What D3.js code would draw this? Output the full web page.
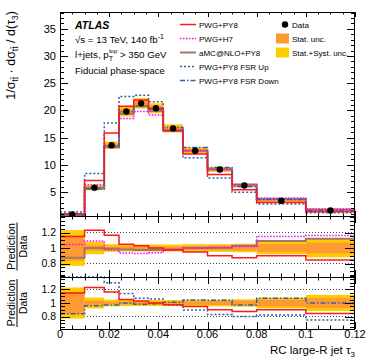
<!DOCTYPE html>
<html>
<head>
<meta charset="utf-8">
<script src="https://cdn.jsdelivr.net/npm/d3@7"></script>
<style>
body { margin: 0; background: #fff; }
text { font-family: "Liberation Sans", Arial, Helvetica, sans-serif; fill: #000; }
</style>
</head>
<body>
<div id="chart"></div>
<script>
// bins of the RC large-R jet tau3
var binEdges = [0, 0.01, 0.018, 0.024, 0.03, 0.036, 0.042, 0.05, 0.06, 0.07, 0.08, 0.1, 0.12];

// unfolded data and its relative uncertainties
var dataVals = [0.87, 5.8, 13.6, 19.8, 21.3, 20.4, 16.7, 12.6, 9.15, 6.2, 3.4, 1.6];
var statUnc  = [0.16, 0.035, 0.02, 0.02, 0.02, 0.02, 0.02, 0.025, 0.03, 0.035, 0.05, 0.07];
var totUnc   = [0.23, 0.08, 0.05, 0.045, 0.045, 0.045, 0.045, 0.05, 0.05, 0.055, 0.08, 0.12];

// predictions
var pwgPy8  = [1.0, 7.13, 15.84, 20.79, 21.94, 20.4, 16.28, 11.97, 8.24, 5.43, 3.06, 1.35];
var pwgH7   = [0.91, 6.32, 13.26, 18.51, 19.81, 19.18, 16.37, 12.6, 9.24, 6.32, 3.91, 1.86];
var amcPy8  = [0.76, 5.8, 13.46, 19.4, 20.77, 19.89, 16.37, 12.6, 9.15, 6.39, 3.71, 1.79];
var fsrUp   = [1.31, 8.41, 17.68, 22.57, 22.79, 21.62, 16.2, 11.28, 7.59, 4.96, 2.79, 1.2];
var fsrDown = [0.73, 5.57, 13.19, 19.8, 20.87, 20.2, 16.87, 13.17, 9.52, 6.01, 3.64, 1.6];

var xTickVals = [0, 0.02, 0.04, 0.06, 0.08, 0.1, 0.12];
var xTickLabels = ["0", "0.02", "0.04", "0.06", "0.08", "0.1", "0.12"];
var mainYTicks = [5, 10, 15, 20, 25, 30, 35];
var ratioYTicks = [0.8, 1, 1.2];
var ratioYLabels = ["0.8", "1", "1.2"];

var W = 374, H = 363;
var L = 60, R = 355;
var mainTop = 12, mainBot = 216;
var r1Top = 216, r1Bot = 277;
var r2Top = 277, r2Bot = 329;

var cRed = "#ff1a1a", cMag = "#ff00ff", cBrown = "#a07868", cBlue = "#2f64a0";
var cStat = "#ff9933", cTot = "#ffcc00";

var svg = d3.select("#chart").append("svg")
    .attr("width", W)
    .attr("height", H);

var x = d3.scaleLinear().domain([0, 0.12]).range([L, R]);
var yMain = d3.scaleLinear().domain([0.59, 38.1]).range([mainBot, mainTop]);
var yR1 = d3.scaleLinear().domain([0.626, 1.413]).range([r1Bot, r1Top]);
var yR2 = d3.scaleLinear().domain([0.615, 1.385]).range([r2Bot, r2Top]);

var bins = dataVals.map(function(d, i) {
    return {lo: binEdges[i], hi: binEdges[i + 1], v: d, s: statUnc[i], t: totUnc[i]};
});

svg.append("clipPath").attr("id", "clipMain")
    .append("rect").attr("x", L).attr("y", mainTop)
    .attr("width", R - L).attr("height", mainBot - mainTop);

function stepPts(vals) {
    var pts = vals.map(function(v, i) { return [binEdges[i], v]; });
    pts.push([binEdges[binEdges.length - 1], vals[vals.length - 1]]);
    return pts;
}

function ratioOf(vals) {
    return vals.map(function(v, i) { return v / dataVals[i]; });
}

function drawStep(g, vals, yScale, color, width, dash, clampIt) {
    var dom = yScale.domain();
    var line = d3.line()
        .x(function(d) { return x(d[0]); })
        .y(function(d) {
            var v = clampIt ? Math.max(dom[0], Math.min(dom[1], d[1])) : d[1];
            return yScale(v);
        })
        .curve(d3.curveStepAfter);
    g.append("path")
        .attr("d", line(stepPts(vals)))
        .attr("fill", "none")
        .attr("stroke", color)
        .attr("stroke-width", width)
        .attr("stroke-dasharray", dash);
}

// ROOT style ticks, all pointing inward
function drawFrame(yScale, top, bot, yMaj, yMin, yMajLen, yMinLen, xMajLen, xMinLen) {
    var g = svg.append("g").attr("stroke", "#000").attr("stroke-width", 1);
    var xMinors = d3.range(0, 25).map(function(i) { return i * 0.005; });
    xMinors.forEach(function(t, i) {
        var len = (i % 4 == 0) ? xMajLen : xMinLen;
        var px = Math.round(x(t)) + 0.5;
        g.append("line").attr("x1", px).attr("x2", px).attr("y1", bot).attr("y2", bot - len);
        g.append("line").attr("x1", px).attr("x2", px).attr("y1", top).attr("y2", top + len);
    });
    yMin.forEach(function(t) {
        var len = yMaj.indexOf(t) >= 0 ? yMajLen : yMinLen;
        var py = Math.round(yScale(t)) + 0.5;
        g.append("line").attr("x1", L).attr("x2", L + len).attr("y1", py).attr("y2", py);
        g.append("line").attr("x1", R).attr("x2", R - len).attr("y1", py).attr("y2", py);
    });
    svg.append("rect")
        .attr("x", L + 0.5).attr("y", top + 0.5)
        .attr("width", R - L - 1).attr("height", bot - top)
        .attr("fill", "none").attr("stroke", "#000").attr("stroke-width", 1);
}

// ---------- main panel ----------
var gMain = svg.append("g").attr("clip-path", "url(#clipMain)");

gMain.selectAll("rect.tot").data(bins).enter().append("rect")
    .attr("class", "tot")
    .attr("x", function(d) { return x(d.lo); })
    .attr("width", function(d) { return x(d.hi) - x(d.lo); })
    .attr("y", function(d) { return yMain(d.v * (1 + d.t)); })
    .attr("height", function(d) { return yMain(d.v * (1 - d.t)) - yMain(d.v * (1 + d.t)); })
    .attr("fill", cTot);

gMain.selectAll("rect.stat").data(bins).enter().append("rect")
    .attr("class", "stat")
    .attr("x", function(d) { return x(d.lo); })
    .attr("width", function(d) { return x(d.hi) - x(d.lo); })
    .attr("y", function(d) { return yMain(d.v * (1 + d.s)); })
    .attr("height", function(d) { return yMain(d.v * (1 - d.s)) - yMain(d.v * (1 + d.s)); })
    .attr("fill", cStat);

drawStep(gMain, amcPy8, yMain, cBrown, 2, null, false);
drawStep(gMain, pwgH7, yMain, cMag, 1.5, "1.5,1.5", false);
drawStep(gMain, fsrUp, yMain, cBlue, 1.5, "2,2", false);
drawStep(gMain, fsrDown, yMain, cBlue, 1.5, "5,2,1.5,2", false);
drawStep(gMain, pwgPy8, yMain, cRed, 1.5, null, false);

gMain.selectAll("circle.data").data(bins).enter().append("circle")
    .attr("class", "data")
    .attr("cx", function(d) { return x((d.lo + d.hi) / 2); })
    .attr("cy", function(d) { return yMain(d.v); })
    .attr("r", 3.2)
    .attr("fill", "#000");

var mainMinors = d3.range(1, 39);
drawFrame(yMain, mainTop, mainBot, mainYTicks, mainMinors, 8, 4, 5, 2.5);

svg.selectAll("text.ymain").data(mainYTicks).enter().append("text")
    .attr("class", "ymain")
    .attr("x", 56)
    .attr("y", function(d) { return yMain(d) + 4; })
    .attr("text-anchor", "end")
    .attr("font-size", 11)
    .text(function(d) { return d; });

// ---------- ratio panels ----------
function ratioPanel(yScale, top, bot, series) {
    var g = svg.append("g");
    [0.8, 1, 1.2].forEach(function(t) {
        g.append("line")
            .attr("x1", L).attr("x2", R)
            .attr("y1", yScale(t)).attr("y2", yScale(t))
            .attr("stroke", "#444").attr("stroke-width", 1)
            .attr("stroke-dasharray", "1,2");
    });
    g.selectAll("rect.tot").data(bins).enter().append("rect")
        .attr("x", function(d) { return x(d.lo); })
        .attr("width", function(d) { return x(d.hi) - x(d.lo); })
        .attr("y", function(d) { return yScale(1 + d.t); })
        .attr("height", function(d) { return yScale(1 - d.t) - yScale(1 + d.t); })
        .attr("fill", cTot);
    g.selectAll("rect.stat").data(bins).enter().append("rect")
        .attr("x", function(d) { return x(d.lo); })
        .attr("width", function(d) { return x(d.hi) - x(d.lo); })
        .attr("y", function(d) { return yScale(1 + d.s); })
        .attr("height", function(d) { return yScale(1 - d.s) - yScale(1 + d.s); })
        .attr("fill", cStat);
    series.forEach(function(s) {
        drawStep(g, ratioOf(s.vals), yScale, s.color, s.width, s.dash, true);
    });
    var minors = d3.range(13, 29).map(function(i) { return Math.round(i * 5) / 100; });
    drawFrame(yScale, top, bot, ratioYTicks, minors, 10, 5, 7, 3.5);
    svg.selectAll(null).data(ratioYTicks).enter().append("text")
        .attr("x", 56)
        .attr("y", function(d) { return yScale(d) + 3.5; })
        .attr("text-anchor", "end")
        .attr("font-size", 10.5)
        .text(function(d, i) { return ratioYLabels[i]; });

    // Prediction / Data title
    var cy = (top + bot) / 2;
    var tg = svg.append("g").attr("transform", "translate(0," + cy + ")");
    tg.append("text")
        .attr("transform", "translate(15,0) rotate(-90)")
        .attr("text-anchor", "middle").attr("font-size", 10.5)
        .text("Prediction");
    tg.append("line")
        .attr("x1", 17).attr("x2", 17).attr("y1", -24).attr("y2", 24)
        .attr("stroke", "#000").attr("stroke-width", 1);
    tg.append("text")
        .attr("transform", "translate(27,0) rotate(-90)")
        .attr("text-anchor", "middle").attr("font-size", 10.5)
        .text("Data");
}

ratioPanel(yR1, r1Top, r1Bot, [
    {vals: amcPy8, color: cBrown, width: 2, dash: null},
    {vals: pwgH7, color: cMag, width: 1.5, dash: "1.5,1.5"},
    {vals: pwgPy8, color: cRed, width: 1.5, dash: null}
]);

ratioPanel(yR2, r2Top, r2Bot, [
    {vals: fsrUp, color: cBlue, width: 1.5, dash: "2,2"},
    {vals: fsrDown, color: cBlue, width: 1.5, dash: "5,2,1.5,2"},
    {vals: pwgPy8, color: cRed, width: 1.5, dash: null}
]);

// x tick labels
svg.selectAll("text.xtick").data(xTickVals).enter().append("text")
    .attr("class", "xtick")
    .attr("x", function(d) { return x(d); })
    .attr("y", 338)
    .attr("text-anchor", "middle")
    .attr("font-size", 11)
    .text(function(d, i) { return xTickLabels[i]; });

// x title
var xt = svg.append("text")
    .attr("x", R).attr("y", 354)
    .attr("text-anchor", "end")
    .attr("font-size", 11.5);
xt.append("tspan").text("RC large-R jet \u03c4");
xt.append("tspan").attr("font-size", 8).attr("dy", 3).text("3");

// main y title
var yt = svg.append("text")
    .attr("transform", "translate(14.5,11) rotate(-90)")
    .attr("text-anchor", "end")
    .attr("font-size", 12.5);
yt.append("tspan").text("1/\u03c3");
yt.append("tspan").attr("font-size", 8.5).attr("dy", 3).text("tt\u0304");
yt.append("tspan").attr("dy", -3).text(" \u00b7 d\u03c3");
yt.append("tspan").attr("font-size", 8.5).attr("dy", 3).text("tt\u0304");
yt.append("tspan").attr("dy", -3).text(" / d(\u03c4");
yt.append("tspan").attr("font-size", 8.5).attr("dy", 3).text("3");
yt.append("tspan").attr("dy", -3).text(")");

// ATLAS labels
svg.append("text")
    .attr("x", 75).attr("y", 28.5)
    .attr("font-size", 10.5).attr("font-weight", "bold").attr("font-style", "italic")
    .text("ATLAS");

var l1 = svg.append("text").attr("x", 75).attr("y", 43).attr("font-size", 9.7);
l1.append("tspan").text("\u221as = 13 TeV, 140 fb");
l1.append("tspan").attr("font-size", 7).attr("dy", -4).text("-1");

var l2 = svg.append("text").attr("x", 75).attr("y", 58).attr("font-size", 9.7);
l2.append("tspan").text("l+jets, p");
l2.append("tspan").attr("font-size", 7).attr("dy", 2.5).text("T");
l2.append("tspan").attr("font-size", 6).attr("dx", -4).attr("dy", -8).text("top");
l2.append("tspan").attr("dy", 5.5).text(" > 350 GeV");

svg.append("text").attr("x", 75).attr("y", 73.5).attr("font-size", 9.5)
    .text("Fiducial phase-space");

// legend
var legLines = [
    {label: "PWG+PY8", color: cRed, width: 1.5, dash: null},
    {label: "PWG+H7", color: cMag, width: 1.5, dash: "1.5,1.5"},
    {label: "aMC@NLO+PY8", color: cBrown, width: 2, dash: null},
    {label: "PWG+PY8 FSR Up", color: cBlue, width: 1.5, dash: "2,2"},
    {label: "PWG+PY8 FSR Down", color: cBlue, width: 1.5, dash: "5,2,1.5,2"}
];
legLines.forEach(function(d, i) {
    var cy = 24.5 + i * 14;
    svg.append("line")
        .attr("x1", 180).attr("x2", 196).attr("y1", cy).attr("y2", cy)
        .attr("stroke", d.color).attr("stroke-width", d.width)
        .attr("stroke-dasharray", d.dash);
    svg.append("text").attr("x", 199).attr("y", cy + 3)
        .attr("font-size", 8).text(d.label);
});

svg.append("circle").attr("cx", 285).attr("cy", 24.5).attr("r", 3.2).attr("fill", "#000");
svg.append("text").attr("x", 292).attr("y", 27.5).attr("font-size", 8).text("Data");
svg.append("rect").attr("x", 276).attr("y", 33.5).attr("width", 13).attr("height", 10).attr("fill", cStat);
svg.append("text").attr("x", 292).attr("y", 41.5).attr("font-size", 8).text("Stat. unc.");
svg.append("rect").attr("x", 276).attr("y", 47.5).attr("width", 13).attr("height", 10).attr("fill", cTot);
svg.append("text").attr("x", 292).attr("y", 55.5).attr("font-size", 8).text("Stat.+Syst. unc.");
</script>
</body>
</html>
